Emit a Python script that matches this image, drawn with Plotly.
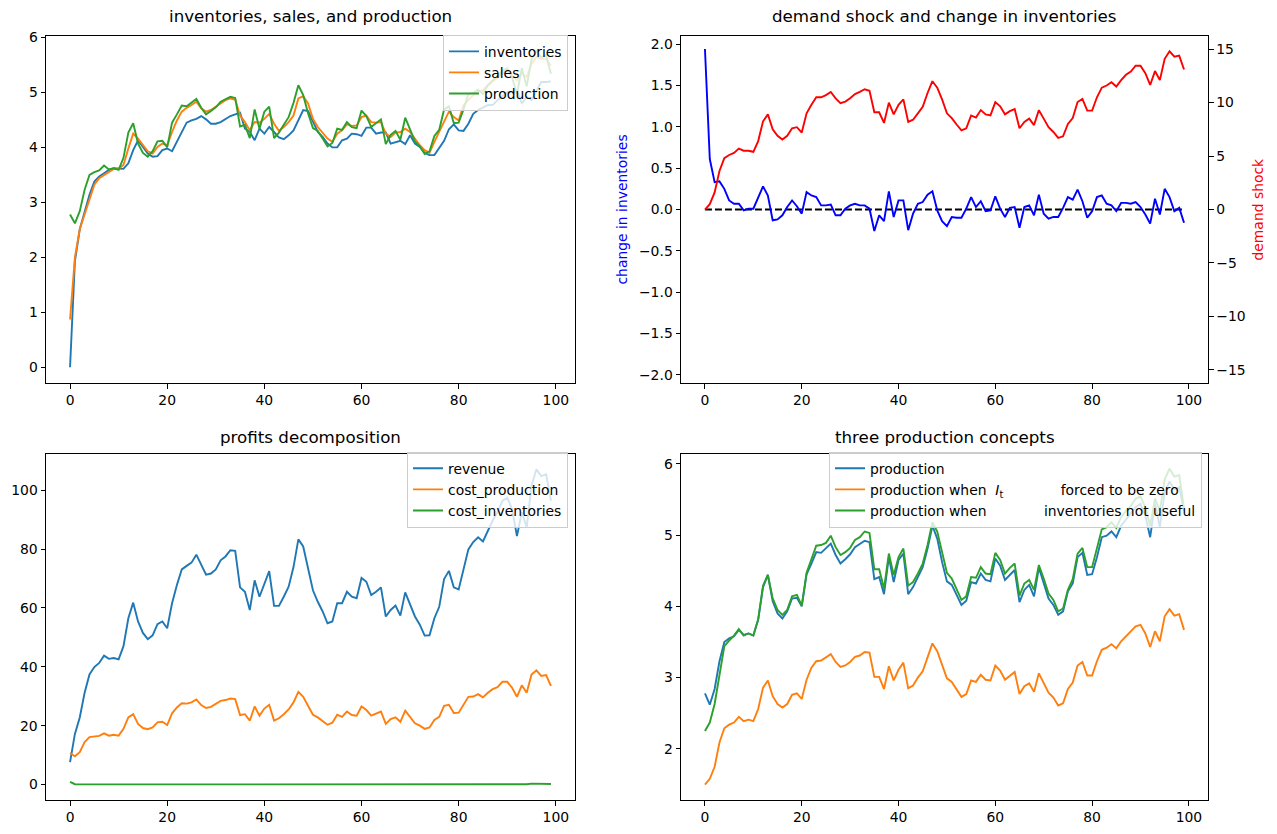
import plotly.graph_objects as go

t = list(range(100))

inventories = [0.0, 1.93, 2.51, 2.84, 3.14, 3.38, 3.47, 3.53, 3.59, 3.62,
               3.61, 3.61, 3.71, 3.95, 4.13, 4.01, 3.89, 3.83, 3.84, 3.95,
               3.98, 3.93, 4.10, 4.28, 4.45, 4.49, 4.52, 4.57, 4.51, 4.43,
               4.43, 4.46, 4.52, 4.57, 4.60, 4.63, 4.34, 4.28, 4.13, 4.34,
               4.25, 4.37, 4.28, 4.18, 4.15, 4.22, 4.31, 4.49, 4.68, 4.66,
               4.46, 4.28, 4.19, 4.07, 4.00, 4.00, 4.13, 4.16, 4.25, 4.24,
               4.21, 4.36, 4.36, 4.25, 4.27, 4.27, 4.07, 4.09, 4.12, 4.06,
               4.22, 4.07, 4.01, 3.90, 3.86, 3.86, 4.00, 4.12, 4.33, 4.42,
               4.31, 4.30, 4.43, 4.61, 4.68, 4.72, 4.77, 4.77, 4.86, 4.93,
               5.01, 5.01, 5.02, 4.80, 4.92, 4.86, 5.04, 5.19, 5.19, 5.20]

sales = [0.87, 2.00, 2.51, 2.78, 3.08, 3.32, 3.44, 3.50, 3.56, 3.61,
         3.61, 3.68, 3.98, 4.25, 4.16, 4.04, 3.93, 3.89, 4.01, 4.07,
         4.04, 4.28, 4.49, 4.65, 4.72, 4.77, 4.83, 4.71, 4.65, 4.68,
         4.74, 4.81, 4.86, 4.89, 4.87, 4.58, 4.46, 4.31, 4.46, 4.45,
         4.52, 4.61, 4.43, 4.30, 4.37, 4.46, 4.58, 4.89, 4.93, 4.80,
         4.52, 4.37, 4.27, 4.16, 4.10, 4.25, 4.31, 4.42, 4.39, 4.40,
         4.55, 4.58, 4.46, 4.45, 4.46, 4.25, 4.19, 4.27, 4.28, 4.34,
         4.28, 4.16, 4.04, 3.95, 3.90, 4.10, 4.28, 4.46, 4.65, 4.55,
         4.49, 4.77, 4.86, 4.95, 5.01, 5.04, 5.13, 5.20, 5.28, 5.34,
         5.40, 5.31, 5.22, 5.34, 5.28, 5.52, 5.64, 5.61, 5.61, 5.49]

production = [2.78, 2.62, 2.84, 3.23, 3.50, 3.55, 3.58, 3.67, 3.60, 3.62,
              3.59, 3.81, 4.27, 4.44, 4.07, 3.90, 3.83, 3.93, 4.11, 4.12,
              4.00, 4.45, 4.60, 4.76, 4.75, 4.81, 4.88, 4.72, 4.60, 4.66,
              4.73, 4.83, 4.87, 4.92, 4.90, 4.38, 4.41, 4.17, 4.69, 4.34,
              4.65, 4.74, 4.17, 4.27, 4.41, 4.55, 4.81, 5.13, 4.95, 4.62,
              4.35, 4.30, 4.16, 4.02, 4.08, 4.34, 4.32, 4.46, 4.37, 4.35,
              4.67, 4.57, 4.37, 4.44, 4.51, 4.06, 4.23, 4.30, 4.14, 4.54,
              4.34, 4.11, 4.02, 3.88, 3.93, 4.21, 4.32, 4.69, 4.75, 4.44,
              4.45, 4.69, 4.97, 4.99, 5.05, 4.97, 5.13, 5.22, 5.30, 5.39,
              5.44, 5.27, 4.97, 5.44, 5.11, 5.60, 5.75, 5.64, 5.67, 5.34]

change_inventories = [1.94, 0.61, 0.33, 0.34, 0.25, 0.11, 0.07, 0.07, -0.01, 0.01,
                      0.01, 0.14, 0.28, 0.17, -0.13, -0.12, -0.07, 0.03, 0.11, 0.04,
                      -0.05, 0.21, 0.17, 0.15, 0.05, 0.05, 0.06, -0.07, -0.07, 0.01,
                      0.05, 0.07, 0.05, 0.05, 0.01, -0.26, -0.07, -0.14, 0.22, -0.09,
                      0.11, 0.11, -0.25, -0.05, 0.07, 0.09, 0.18, 0.22, -0.01, -0.14,
                      -0.20, -0.09, -0.10, -0.10, 0.01, 0.15, 0.03, 0.10, -0.02, -0.01,
                      0.16, 0.01, -0.09, 0.02, 0.03, -0.22, 0.03, 0.05, -0.07, 0.18,
                      -0.05, -0.11, -0.09, -0.09, 0.02, 0.15, 0.12, 0.24, 0.10, -0.10,
                      -0.02, 0.15, 0.17, 0.07, 0.05, -0.02, 0.08, 0.08, 0.07, 0.09,
                      0.03, -0.06, -0.17, 0.13, -0.06, 0.25, 0.15, -0.02, 0.02, -0.16]

demand_shock = [0.0, 0.5, 1.6, 3.6, 4.8, 5.1, 5.3, 5.7, 5.5, 5.5,
                5.4, 6.4, 8.25, 8.9, 7.5, 6.9, 6.55, 6.9, 7.6, 7.7,
                7.2, 9.0, 9.8, 10.5, 10.5, 10.7, 11.0, 10.4, 9.95, 10.1,
                10.4, 10.8, 11.0, 11.25, 11.1, 9.1, 9.1, 8.1, 10.0, 8.9,
                9.8, 10.3, 8.2, 8.4, 9.0, 9.6, 10.9, 12.0, 11.4, 10.3,
                9.0, 8.55, 7.95, 7.4, 7.6, 8.8, 8.6, 9.3, 8.9, 8.8,
                10.05, 9.65, 8.9, 9.2, 9.4, 7.6, 8.2, 8.5, 7.9, 9.3,
                8.5, 7.7, 7.25, 6.7, 6.85, 8.0, 8.55, 10.05, 10.35, 9.25,
                9.25, 10.5, 11.4, 11.6, 11.9, 11.5, 12.1, 12.6, 12.9, 13.45,
                13.45, 12.75, 11.65, 12.95, 12.1, 14.1, 14.8, 14.3, 14.4, 13.1]

zero_line = [0.0] * 100

revenue = [7.6, 17.2, 22.8, 31.2, 37.4, 39.9, 41.3, 43.8, 42.7, 43.0,
           42.5, 47.0, 56.5, 61.8, 55.4, 51.5, 49.4, 50.7, 54.5, 55.4,
           53.1, 61.6, 67.8, 73.1, 74.3, 75.4, 78.1, 74.7, 71.3, 71.7,
           73.1, 76.2, 77.5, 79.6, 79.4, 67.0, 65.5, 59.3, 69.4, 63.8,
           68.3, 72.5, 60.7, 60.7, 63.8, 67.2, 73.9, 83.3, 80.9, 73.9,
           66.0, 62.1, 58.8, 54.8, 55.4, 61.6, 61.6, 65.5, 63.8, 63.3,
           70.2, 68.9, 64.4, 65.5, 67.0, 57.1, 59.3, 60.8, 57.4, 65.3,
           61.0, 57.1, 54.3, 50.6, 50.7, 56.5, 60.4, 69.8, 72.6, 67.0,
           66.3, 73.4, 79.9, 82.4, 84.0, 82.6, 86.3, 89.7, 92.5, 96.4,
           97.5, 93.6, 84.4, 92.5, 87.4, 101.5, 107.1, 104.8, 105.4, 96.4]

cost_production = [10.7, 9.6, 11.0, 14.4, 16.1, 16.3, 16.5, 17.4, 16.6, 16.9,
                   16.6, 18.9, 22.8, 23.9, 20.6, 19.2, 18.8, 19.4, 21.1, 21.3,
                   20.2, 24.2, 26.2, 27.6, 27.5, 27.9, 28.9, 27.0, 26.0, 26.4,
                   27.3, 28.4, 28.7, 29.2, 29.0, 23.6, 23.9, 21.7, 26.5, 23.4,
                   25.8, 27.1, 21.7, 22.5, 23.9, 25.5, 27.9, 31.5, 29.8, 27.0,
                   23.7, 22.8, 21.7, 20.3, 21.0, 23.7, 23.0, 24.8, 23.6, 23.4,
                   26.5, 25.3, 23.4, 24.2, 24.8, 20.6, 22.2, 22.8, 21.3, 25.1,
                   22.8, 20.8, 20.0, 18.9, 19.4, 21.9, 23.0, 26.7, 27.1, 24.3,
                   24.4, 27.3, 29.8, 29.9, 30.7, 29.6, 31.2, 32.4, 33.1, 34.9,
                   34.9, 32.9, 29.8, 33.7, 31.2, 37.4, 38.8, 36.9, 37.2, 33.5]

cost_inventories = [0.9, 0.1, 0.05, 0.05, 0.05, 0.03, 0.03, 0.03, 0.03, 0.03,
                    0.03, 0.04, 0.08, 0.05, 0.04, 0.04, 0.03, 0.03, 0.04, 0.03,
                    0.03, 0.06, 0.05, 0.05, 0.04, 0.04, 0.04, 0.04, 0.04, 0.04,
                    0.04, 0.04, 0.04, 0.04, 0.04, 0.1, 0.05, 0.06, 0.08, 0.05,
                    0.05, 0.05, 0.1, 0.05, 0.05, 0.05, 0.07, 0.12, 0.05, 0.06,
                    0.08, 0.05, 0.05, 0.05, 0.04, 0.06, 0.04, 0.05, 0.04, 0.04,
                    0.07, 0.04, 0.05, 0.04, 0.04, 0.09, 0.04, 0.05, 0.05, 0.08,
                    0.05, 0.05, 0.05, 0.05, 0.04, 0.06, 0.06, 0.1, 0.06, 0.06,
                    0.05, 0.07, 0.08, 0.06, 0.06, 0.05, 0.06, 0.06, 0.06, 0.07,
                    0.06, 0.06, 0.09, 0.1, 0.07, 0.3, 0.3, 0.25, 0.2, 0.15]

production_zero_inventories = [1.50, 1.58, 1.75, 2.09, 2.29, 2.34, 2.37, 2.45, 2.39, 2.41,
                               2.39, 2.56, 2.86, 2.96, 2.74, 2.63, 2.58, 2.63, 2.76, 2.78,
                               2.70, 2.97, 3.14, 3.23, 3.24, 3.28, 3.33, 3.22, 3.15, 3.17,
                               3.22, 3.29, 3.31, 3.36, 3.35, 3.01, 3.01, 2.84, 3.16, 2.96,
                               3.11, 3.21, 2.85, 2.89, 3.00, 3.09, 3.28, 3.48, 3.37, 3.17,
                               2.99, 2.94, 2.84, 2.73, 2.77, 2.96, 2.94, 3.04, 2.97, 2.96,
                               3.17, 3.10, 2.97, 3.02, 3.08, 2.77, 2.88, 2.92, 2.80, 3.06,
                               2.93, 2.79, 2.72, 2.61, 2.64, 2.84, 2.93, 3.17, 3.22, 3.03,
                               3.03, 3.23, 3.39, 3.42, 3.47, 3.41, 3.51, 3.58, 3.64, 3.72,
                               3.74, 3.62, 3.43, 3.65, 3.51, 3.86, 3.96, 3.87, 3.89, 3.67]

production_no_inventories = [2.25, 2.37, 2.63, 3.04, 3.44, 3.52, 3.59, 3.68, 3.59, 3.62,
                             3.59, 3.82, 4.29, 4.44, 4.11, 3.95, 3.88, 3.95, 4.14, 4.16,
                             4.01, 4.47, 4.65, 4.85, 4.86, 4.89, 4.99, 4.83, 4.72, 4.76,
                             4.82, 4.93, 4.97, 5.05, 5.03, 4.52, 4.52, 4.25, 4.74, 4.44,
                             4.69, 4.81, 4.29, 4.34, 4.46, 4.60, 4.86, 5.18, 5.05, 4.74,
                             4.47, 4.39, 4.25, 4.09, 4.14, 4.41, 4.40, 4.55, 4.46, 4.45,
                             4.75, 4.65, 4.46, 4.54, 4.60, 4.15, 4.32, 4.37, 4.23, 4.58,
                             4.39, 4.18, 4.09, 3.93, 3.97, 4.23, 4.38, 4.74, 4.82, 4.55,
                             4.55, 4.83, 5.08, 5.11, 5.18, 5.10, 5.25, 5.34, 5.41, 5.51,
                             5.54, 5.39, 5.13, 5.51, 5.34, 5.78, 5.93, 5.82, 5.84, 5.37]

titles = ["inventories, sales, and production",
          "demand shock and change in inventories",
          "profits decomposition",
          "three production concepts"]
x_ticks = [0, 20, 40, 60, 80, 100]

C_BLUE = "#1f77b4"
C_ORANGE = "#ff7f0e"
C_GREEN = "#2ca02c"
LW = 1.9
FONT = "DejaVu Sans"
FS = 13.9
FS_TITLE = 16.7

W, H = 1277, 834


def px_x(p):
    return p / W


def px_y(p):
    return 1 - p / H


fig = go.Figure()
_group = [0]


def line(y, color, name, xa, ya, legend="legend", showlegend=True, dash=None):
    _group[0] += 1
    fig.add_trace(go.Scatter(
        x=t, y=y, mode="lines", name=name,
        line=dict(color=color, width=LW, dash=dash),
        xaxis=xa, yaxis=ya,
        legend=legend, legendgroup="g%d" % _group[0],
        showlegend=showlegend,
    ))


# panel 1
line(inventories, C_BLUE, "inventories", "x", "y", "legend")
line(sales, C_ORANGE, "sales", "x", "y", "legend")
line(production, C_GREEN, "production", "x", "y", "legend")

# panel 2
line(zero_line, "black", "zero", "x2", "y2", showlegend=False, dash="7px,3px")
line(change_inventories, "#0000ff", "change in inventories", "x2", "y2", showlegend=False)
line(demand_shock, "#ff0000", "demand shock", "x2", "y5", showlegend=False)

# panel 3
line(revenue, C_BLUE, "revenue", "x3", "y3", "legend2")
line(cost_production, C_ORANGE, "cost_production", "x3", "y3", "legend2")
line(cost_inventories, C_GREEN, "cost_inventories", "x3", "y3", "legend2")

# panel 4
NB = "\u00a0"
line(production, C_BLUE, "production", "x4", "y4", "legend3")
line(production_zero_inventories, C_ORANGE,
     "production when" + NB * 2 + "<i>I</i><sub>t</sub>" + NB * 13 + "forced to be zero",
     "x4", "y4", "legend3")
line(production_no_inventories, C_GREEN,
     "production when" + NB * 13 + "inventories not useful",
     "x4", "y4", "legend3")

dom_x = [[px_x(46), px_x(575)], [px_x(681), px_x(1208)]]
dom_y = [[px_y(380), px_y(30)], [px_y(800), px_y(451)]]

axis_common = dict(
    showline=True, linecolor="black", linewidth=1, mirror=True,
    ticks="outside", ticklen=4.5, tickwidth=1, tickcolor="black",
    showgrid=False, zeroline=False,
    tickfont=dict(family=FONT, size=FS, color="black"),
)
axis_nomirror = {k: v for k, v in axis_common.items() if k != "mirror"}

xrange = [-4.95, 103.95]
layout = dict(
    width=W, height=H,
    margin=dict(l=0, r=0, t=0, b=0),
    paper_bgcolor="white", plot_bgcolor="white",
    font=dict(family=FONT, size=FS, color="black"),
    xaxis=dict(domain=dom_x[0], anchor="y", range=xrange, tickvals=x_ticks, **axis_common),
    yaxis=dict(domain=dom_y[0], anchor="x", range=[-0.29, 6.03], dtick=1, **axis_common),
    xaxis2=dict(domain=dom_x[1], anchor="y2", range=xrange, tickvals=x_ticks, **axis_common),
    yaxis2=dict(domain=dom_y[0], anchor="x2", range=[-2.1, 2.1], dtick=0.5,
                tickformat=".1f", **axis_common),
    yaxis5=dict(overlaying="y2", anchor="x2", side="right", range=[-16.25, 16.25],
                dtick=5, **axis_nomirror),
    xaxis3=dict(domain=dom_x[0], anchor="y3", range=xrange, tickvals=x_ticks, **axis_common),
    yaxis3=dict(domain=dom_y[1], anchor="x3", range=[-5.35, 112.4], dtick=20, **axis_common),
    xaxis4=dict(domain=dom_x[1], anchor="y4", range=xrange, tickvals=x_ticks, **axis_common),
    yaxis4=dict(domain=dom_y[1], anchor="x4", range=[1.28, 6.14], dtick=1, **axis_common),
)

legend_common = dict(
    bgcolor="rgba(255,255,255,0.8)", bordercolor="#cccccc", borderwidth=1,
    font=dict(family=FONT, size=FS, color="black"),
    xanchor="right", yanchor="top", itemwidth=30, tracegroupgap=0,
)
layout["legend"] = dict(x=px_x(568), y=px_y(29), **legend_common)
layout["legend2"] = dict(x=px_x(568), y=px_y(449), **legend_common)
layout["legend3"] = dict(x=px_x(1202), y=px_y(449), **legend_common)

fig.update_layout(**layout)

# titles
centers_x = [(46 + 575) / 2, (681 + 1208) / 2, (46 + 575) / 2, (681 + 1208) / 2]
centers_y = [10, 10, 434, 434]
for title, cx, cy in zip(titles, centers_x, centers_y):
    fig.add_annotation(x=px_x(cx), y=px_y(cy), xref="paper", yref="paper",
                       text=title, showarrow=False, xanchor="center", yanchor="middle",
                       font=dict(family=FONT, size=FS_TITLE, color="black"))

fig.add_annotation(x=px_x(622), y=px_y(205), xref="paper", yref="paper",
                   text="change in inventories", showarrow=False, textangle=-90,
                   xanchor="center", yanchor="middle",
                   font=dict(family=FONT, size=FS, color="#0000ff"))
fig.add_annotation(x=px_x(1258), y=px_y(205), xref="paper", yref="paper",
                   text="demand shock", showarrow=False, textangle=-90,
                   xanchor="center", yanchor="middle",
                   font=dict(family=FONT, size=FS, color="#ff0000"))

fig.write_html("out.html",
               config={"displayModeBar": False},
               post_script="document.body.style.margin='0';"
                           "document.documentElement.style.overflow='hidden';")
